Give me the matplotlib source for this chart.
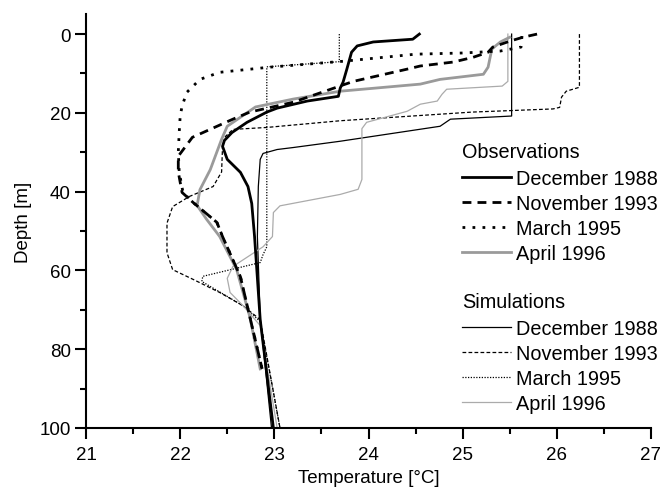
import matplotlib
matplotlib.use("Agg")
import matplotlib.pyplot as plt
from matplotlib.lines import Line2D
from matplotlib.ticker import MultipleLocator

plt.rcParams['font.family'] = ['Liberation Sans', 'DejaVu Sans']

# ---- Observations (temperature [°C], depth [m]) ----
obs_dec88_T = [24.54, 24.47, 24.05, 23.88, 23.82, 23.77, 23.73, 23.70, 23.68, 23.35, 23.03, 22.92,
               22.71, 22.55, 22.47, 22.45, 22.50, 22.64, 22.72, 22.76, 22.79, 22.85, 22.99]
obs_dec88_D = [0.0, 1.3, 2.0, 3.0, 4.6, 8.9, 12.2, 13.7, 15.8, 17.0, 18.8, 19.8,
               22.4, 25.0, 27.0, 28.5, 31.8, 35.1, 38.7, 43.0, 51.4, 72.5, 100.0]

obs_nov93_T = [25.79, 25.64, 25.50, 25.32, 25.27, 25.11, 24.90, 24.55, 24.41, 23.84, 23.20, 22.74,
               22.56, 22.13, 21.98, 21.98, 22.02, 22.14, 22.39, 22.45, 22.64, 22.74, 22.87]
obs_nov93_D = [0.0, 0.8, 1.8, 3.3, 4.6, 5.9, 7.1, 8.1, 8.9, 12.0, 17.3, 19.8,
               21.6, 26.2, 31.0, 35.0, 40.2, 42.8, 47.8, 51.4, 61.6, 71.8, 85.0]

obs_mar95_T = [25.63, 25.62, 25.40, 25.00, 24.50, 23.73, 22.95, 22.42, 22.21, 22.07, 22.02, 22.00,
               21.99, 21.98, 21.99, 22.03, 22.14, 22.39, 22.45, 22.64, 22.74, 22.87]
obs_mar95_D = [0.5, 3.3, 4.3, 4.8, 5.1, 6.9, 8.4, 9.7, 11.5, 14.8, 18.3, 20.9,
               24.9, 30.0, 35.0, 40.2, 42.8, 47.8, 51.4, 61.6, 71.8, 85.0]

obs_apr96_T = [25.50, 25.40, 25.31, 25.27, 25.22, 24.76, 24.55, 23.70, 23.20, 22.80, 22.50, 22.44,
               22.32, 22.21, 22.18, 22.28, 22.42, 22.60, 22.74, 22.85]
obs_apr96_D = [0.8, 2.0, 3.8, 8.4, 10.2, 11.5, 12.7, 14.5, 16.5, 18.5, 23.4, 26.7,
               34.4, 39.5, 43.5, 47.0, 51.4, 59.8, 71.8, 85.0]

# ---- Simulations ----
sim_dec88_T = [25.52, 25.52, 24.87, 24.76, 23.70, 23.20, 23.03, 22.88, 22.85, 22.83, 22.82, 22.85, 22.97]
sim_dec88_D = [0.0, 20.8, 21.6, 23.4, 27.2, 28.8, 29.3, 30.3, 31.8, 38.7, 51.4, 72.0, 100.0]

sim_nov93_T = [26.24, 26.24, 26.10, 26.05, 26.03, 25.96, 25.10, 23.70, 22.92, 22.56, 22.48, 22.45,
               22.44, 22.35, 22.10, 21.92, 21.86, 21.86, 21.92, 22.14, 22.42, 22.67, 22.85, 23.06]
sim_nov93_D = [0.0, 13.5, 14.5, 16.0, 18.6, 19.0, 19.8, 22.0, 23.7, 24.2, 26.0, 28.5,
               35.0, 38.7, 41.2, 43.8, 48.0, 55.5, 59.8, 62.3, 65.6, 69.0, 72.5, 100.0]

sim_mar95_T = [23.69, 23.69, 22.93, 22.92, 22.92, 22.88, 22.85, 22.24, 22.23, 22.67, 22.85, 23.06]
sim_mar95_D = [0.0, 7.0, 8.3, 8.3, 54.0, 56.0, 58.0, 61.5, 62.8, 69.0, 73.0, 100.0]

sim_apr96_T = [25.48, 25.48, 25.42, 24.83, 24.78, 24.73, 24.55, 24.41, 23.98, 23.93, 23.93, 23.89,
               23.70, 23.06, 22.99, 22.98, 22.88, 22.56, 22.50, 22.53, 22.67, 22.85, 23.03]
sim_apr96_D = [0.0, 12.0, 13.2, 14.0, 15.3, 17.0, 17.8, 19.6, 22.4, 24.0, 36.9, 39.4,
               40.7, 43.6, 45.3, 51.4, 54.0, 59.0, 62.0, 65.6, 69.0, 74.0, 100.0]

labels = ["December 1988", "November 1993", "March 1995", "April 1996"]
x_ticks = [21, 22, 23, 24, 25, 26, 27]
y_ticks = [0, 20, 40, 60, 80, 100]

W, H = 664, 489
fig = plt.figure(figsize=(W / 100, H / 100), dpi=100)
ax = fig.add_axes([86 / W, (H - 429) / H, (651 - 86) / W, (429 - 15) / H])

thick = 2.0
thin = 0.9
gray_obs = '#9a9a9a'
gray_sim = '#ababab'

obs_styles = [dict(color='black', lw=thick, ls='-'),
              dict(color='black', lw=thick, ls=(0, (3.2, 2.2))),
              dict(color='black', lw=thick, ls=(0, (1.0, 2.6))),
              dict(color=gray_obs, lw=thick, ls='-')]
sim_styles = [dict(color='black', lw=thin, ls='-'),
              dict(color='black', lw=thin, ls=(0, (3.0, 1.8))),
              dict(color='black', lw=thin, ls=(0, (1.0, 1.2))),
              dict(color=gray_sim, lw=thin, ls='-')]

sims = [(sim_dec88_T, sim_dec88_D), (sim_nov93_T, sim_nov93_D),
        (sim_mar95_T, sim_mar95_D), (sim_apr96_T, sim_apr96_D)]
obss = [(obs_dec88_T, obs_dec88_D), (obs_nov93_T, obs_nov93_D),
        (obs_mar95_T, obs_mar95_D), (obs_apr96_T, obs_apr96_D)]

for (t, d), st in zip(sims, sim_styles):
    ax.plot(t, d, **st)
for (t, d), st in zip(obss[::-1], obs_styles[::-1]):
    ax.plot(t, d, **st)

ax.set_xlim(21, 27)
ax.set_ylim(100, -5.1)
ax.set_xticks(x_ticks)
ax.set_yticks(y_ticks)
ax.xaxis.set_minor_locator(MultipleLocator(0.5))
ax.yaxis.set_minor_locator(MultipleLocator(10))
for s in ['top', 'right']:
    ax.spines[s].set_visible(False)
for s in ['left', 'bottom']:
    ax.spines[s].set_linewidth(1.5)
ax.tick_params(which='major', direction='out', length=8, width=1.5, labelsize=13.5, pad=3)
ax.tick_params(axis='x', which='major', pad=5)
ax.tick_params(which='minor', direction='out', length=4, width=1.5)
ax.set_xlabel("Temperature [°C]", fontsize=13.5, labelpad=4)
ax.set_ylabel("Depth [m]", fontsize=13.5, labelpad=5)

obs_handles = [Line2D([], [], **st) for st in obs_styles]
sim_handles = [Line2D([], [], **st) for st in sim_styles]

common = dict(frameon=False, fontsize=14.3, title_fontsize=14.3, handlelength=2.45,
              handletextpad=0.25, labelspacing=0.3, borderpad=0, borderaxespad=0,
              alignment='left', loc='upper left')
leg1 = fig.legend(obs_handles, labels, title="Observations",
                  bbox_to_anchor=(462 / W, 1 - 143 / H), **common)
leg2 = fig.legend(sim_handles, labels, title="Simulations",
                  bbox_to_anchor=(462 / W, 1 - 293 / H), **common)
for lg in (leg1, leg2):
    lg._legend_box.sep = 6

fig.savefig("out.png", dpi=100)
